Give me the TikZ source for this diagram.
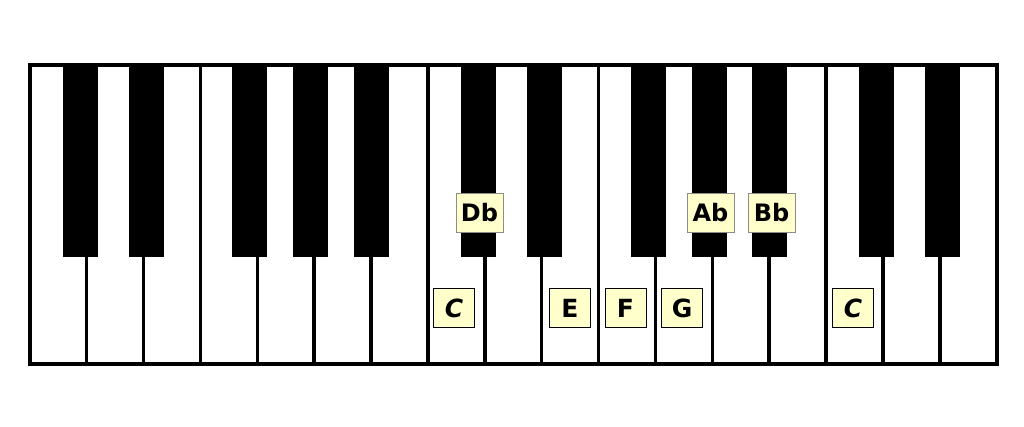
\documentclass[tikz,border=0pt]{standalone}
\usepackage{fontspec}
\setmainfont{DejaVu Sans}
\definecolor{labelfill}{HTML}{FFFFCC}
\tikzset{
  whitekey/.style={draw=black, line width=3.5pt, fill=white, minimum width=56.88pt, minimum height=298.5pt, inner sep=0pt, anchor=north west},
  blackkey/.style={fill=black, minimum width=35pt, minimum height=193pt, inner sep=0pt, anchor=north},
  whitelabel/.style={draw=black, line width=0.8pt, fill=labelfill, minimum width=41pt, minimum height=39pt, inner sep=0pt, font=\fontsize{25}{25}\selectfont\bfseries},
  blacklabel/.style={draw=black!45, line width=0.6pt, fill=labelfill, minimum width=47pt, minimum height=39pt, inner sep=0pt, font=\fontsize{24}{24}\selectfont\bfseries},
  frame/.style={draw=black, line width=4pt}
}
\begin{document}
\begin{tikzpicture}[x=1pt,y=-1pt]
\useasboundingbox (0,0) rectangle (1024,427);
\fill[white] (0,0) rectangle (1024,427);
% white keys
\foreach \i in {0,...,16} {
  \node[whitekey] (w\i) at ({28+56.88*\i},63.5) {};
}
% black keys
\foreach \c [count=\j] in {80.5,146,249.5,310.5,371.5,478.5,544.5,648.5,709.5,769.5,876.5,942.5} {
  \node[blackkey] (b\j) at (\c,63.5) {};
}
% frame
\node[frame, minimum width=967pt, minimum height=298.5pt, inner sep=0pt, anchor=north west] (kbd) at (28,63.5) {};
% labels
\node[blacklabel] (Db) at (479.5,213) {Db};
\node[blacklabel] (Ab) at (710.5,213) {Ab};
\node[blacklabel] (Bb) at (771.5,213) {Bb};
\node[whitelabel] (C1) at (454,308) {\itshape C};
\node[whitelabel] (E) at (570,308) {E};
\node[whitelabel] (F) at (625.5,308) {F};
\node[whitelabel] (G) at (682,308) {G};
\node[whitelabel] (C2) at (853,308) {\itshape C};
\end{tikzpicture}
\end{document}
